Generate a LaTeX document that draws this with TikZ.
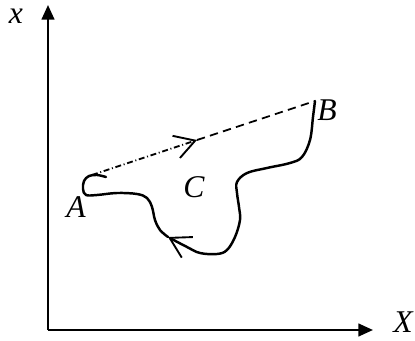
\documentclass[tikz,border=0pt]{standalone}
\usepackage{fontspec}
\setmainfont{Liberation Serif}
\usetikzlibrary{arrows.meta}

\begin{document}
\begin{tikzpicture}[x=0.03cm,y=-0.03cm,>={Straight Barb[length=0.6cm,width=0.7cm,line width=1.6pt]},axis/.style={line width=2pt,-{Triangle[length=0.44cm,width=0.38cm]}},lbl/.style={font=\fontsize{27}{30}\selectfont\itshape},path/.style={line width=2.1pt,line cap=round,line join=round}]
  \useasboundingbox (0,0) rectangle (415,341);
  \coordinate (O) at (48,330);
  \coordinate (ytip) at (48,5);
  \coordinate (xtip) at (373,330);
  \coordinate (A) at (92,175);
  \coordinate (M) at (197,140);
  \coordinate (B) at (315,101);
  \coordinate (T) at (168,237);
  \draw[axis] (O) -- (ytip);
  \draw[axis] (O) -- (xtip);
  \node[lbl] (xlab) at (16,16) {x};
  \node[lbl] (Xlab) at (403,322) {X};
  \node[lbl] (Alab) at (76,207) {A};
  \node[lbl] (Blab) at (327,110) {B};
  \node[lbl] (Clab) at (194,187) {C};
  % chord A -> B
  \draw[line width=1.5pt,->,dash pattern=on 0.18cm off 0.08cm on 0.03cm off 0.08cm] (A) -- (M);
  \draw[line width=1.5pt,dash pattern=on 0.25cm off 0.16cm] (M) -- (B);
  % path B -> A
  \draw[path,->] plot[smooth,tension=0.6] coordinates {(B) (313,117) (310,140) (302,157) (290,163) (267,168) (247,173) (237,182) (237,193) (239,207) (240,220) (235,237) (227,250) (217,254) (200,253) (187,247) (T)};
  \draw[path] plot[smooth,tension=0.6] coordinates {(T) (160,230) (155,220) (152,207) (147,198) (137,194) (117,193) (97,195) (86,195) (83,189) (84,181) (89,176) (97,175) (106,177)};
\end{tikzpicture}
\end{document}
